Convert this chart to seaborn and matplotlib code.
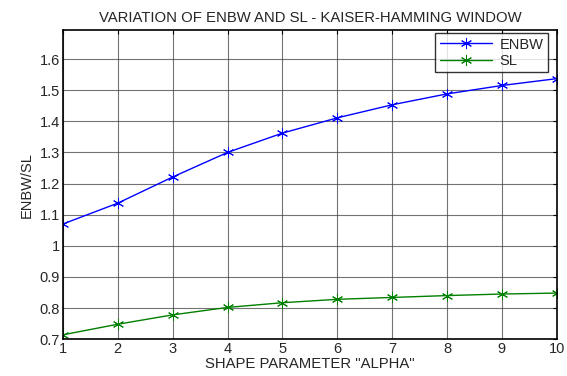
import numpy as np
import pandas as pd
import seaborn as sns
import matplotlib
matplotlib.use("Agg")
import matplotlib.pyplot as plt

alpha = [1, 2, 3, 4, 5, 6, 7, 8, 9, 10]
enbw = [1.070, 1.137, 1.221, 1.300, 1.362, 1.411, 1.453, 1.488, 1.515, 1.537]
sl = [0.714, 0.748, 0.778, 0.802, 0.817, 0.828, 0.834, 0.840, 0.845, 0.848]
series = ["ENBW", "SL"]
colors = ["#0000ff", "#008000"]
yticks = [0.7, 0.8, 0.9, 1.0, 1.1, 1.2, 1.3, 1.4, 1.5, 1.6]
ytick_labels = ["0.7", "0.8", "0.9", "1", "1.1", "1.2", "1.3", "1.4", "1.5", "1.6"]

df = pd.DataFrame({
    "alpha": alpha * 2,
    "value": enbw + sl,
    "series": ["ENBW"] * len(alpha) + ["SL"] * len(alpha),
})

sns.set_style("white")
plt.rcParams["font.family"] = ["Liberation Sans", "DejaVu Sans"]

fig = plt.figure(figsize=(5.67, 3.76), dpi=100)
ax = fig.add_axes([0.111, 0.098, 0.871, 0.822])

sns.lineplot(data=df, x="alpha", y="value", hue="series", hue_order=series,
             palette=colors, marker=(6, 2, 0), markersize=8, markeredgewidth=0.7,
             linewidth=1, ax=ax)

# asterisk markers in the line colour (seaborn default edge is white)
for ln in ax.lines:
    ln.set_markeredgecolor(ln.get_color())

ax.set_xlim(1, 10)
ax.set_ylim(0.7, 1.693)
ax.set_xticks(alpha)
ax.set_yticks(yticks)
ax.set_yticklabels(ytick_labels)
ax.grid(True, color="#444444", linewidth=0.8, alpha=0.75)
ax.tick_params(direction="in", length=3, top=True, right=True, labelsize=10.5,
               pad=2, color="black")
for s in ax.spines.values():
    s.set_color("black")
    s.set_linewidth(1.2)

ax.set_title("VARIATION OF ENBW AND SL - KAISER-HAMMING WINDOW", fontsize=10.7, pad=6)
ax.set_xlabel('SHAPE PARAMETER "ALPHA"', fontsize=10.7, labelpad=1)
ax.set_ylabel("ENBW/SL", fontsize=10.5, labelpad=4)

leg = ax.legend(loc="upper right", bbox_to_anchor=(0.982, 0.99), fontsize=10.5,
                frameon=True, fancybox=False, borderaxespad=0, handlelength=3.6,
                borderpad=0.3, labelspacing=0.15, handletextpad=0.5)
leg.get_frame().set_edgecolor("black")
leg.get_frame().set_linewidth(1)
for h in leg.legend_handles:
    h.set_markeredgecolor(h.get_color())

fig.savefig("out.png", dpi=100)
